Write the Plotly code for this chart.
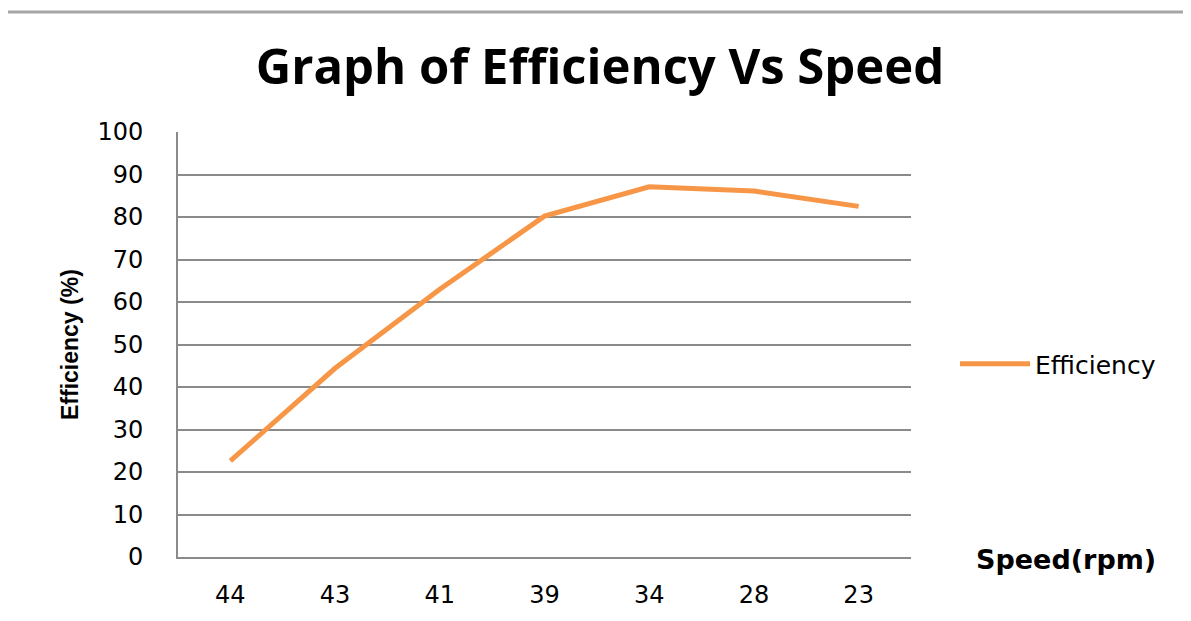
import plotly.graph_objects as go

speed_labels = ["44", "43", "41", "39", "34", "28", "23"]
efficiency = [22.6, 44.4, 63.0, 80.2, 87.1, 86.1, 82.5]
y_ticks = [0, 10, 20, 30, 40, 50, 60, 70, 80, 90, 100]

# page has an 8px body margin; figure coordinates = page coordinates - 8
W, H = 1183, 613
L, R, T, B = 170, 903, 124, 549
PW, PH = R - L, B - T

def px(xf):
    return (xf - L) / PW

def py(yf):
    return (B - yf) / PH

fig = go.Figure()
fig.add_trace(go.Scatter(
    x=speed_labels, y=efficiency, mode="lines", name="Efficiency",
    line=dict(color="#F79646", width=5),
))

grid = "#8A8A8A"
fig.update_layout(
    width=W, height=H,
    paper_bgcolor="white", plot_bgcolor="white",
    margin=dict(l=L, r=W - R, t=T, b=H - B),
    title=dict(text="<b>Graph of Efficiency Vs Speed</b>", x=592 / W, xanchor="center",
               y=1 - 59 / H, yanchor="middle",
               font=dict(family="Open Sans", size=49, color="black")),
    showlegend=True,
    legend=dict(x=px(953 - 6), y=py(356), yanchor="middle", xanchor="left",
                font=dict(family="DejaVu Sans", size=25, color="black"),
                itemwidth=70, bgcolor="rgba(0,0,0,0)"),
    xaxis=dict(type="category", range=[-0.5, 6.5], showgrid=False,
               showline=True, linecolor=grid, linewidth=2, mirror=False,
               ticks="", tickfont=dict(family="DejaVu Sans", size=24, color="black"),
               ticklabelstandoff=15),
    yaxis=dict(range=[0, 100], tickvals=y_ticks, showgrid=True, gridcolor=grid, gridwidth=2,
               showline=True, linecolor=grid, linewidth=2, zeroline=False,
               ticks="", tickfont=dict(family="DejaVu Sans", size=24, color="black"),
               ticklabelstandoff=28),
    shapes=[dict(type="line", xref="paper", yref="paper", x0=px(-4), x1=px(W),
                 y0=py(4), y1=py(4),
                 line=dict(color="#A6A6A6", width=3))],
    annotations=[
        dict(text="<b>Efficiency (%)</b>", xref="paper", yref="paper",
             x=px(62), y=py(337), textangle=-90,
             showarrow=False, xanchor="center", yanchor="middle",
             font=dict(family="Liberation Sans", size=23, color="black")),
        dict(text="<b>Speed(rpm)</b>", xref="paper", yref="paper",
             x=px(1058), y=py(551),
             showarrow=False, xanchor="center", yanchor="middle",
             font=dict(family="DejaVu Sans", size=27, color="black")),
    ],
)
fig.write_html("out.html")
